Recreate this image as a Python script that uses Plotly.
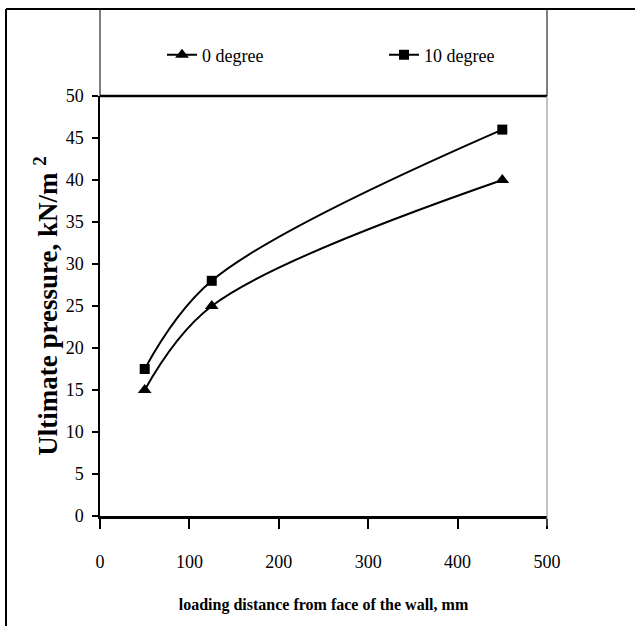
import plotly.graph_objects as go

# Ultimate pressure vs. loading distance for two inclination angles
distance_mm = [50, 125, 450]
pressure_0deg = [15, 25, 40]
pressure_10deg = [17.5, 28, 46]
series_names = ["0 degree", "10 degree"]
x_ticks = [0, 100, 200, 300, 400, 500]
y_ticks = [0, 5, 10, 15, 20, 25, 30, 35, 40, 45, 50]

W, H = 635, 626
L, R, T, B = 100, 547, 96, 516  # plot-area edges in pixels

FONT = "Liberation Serif"


def fx(xp):
    """pixel column -> paper x"""
    return (xp - L) / (R - L)


def fy(yp):
    """pixel row -> paper y"""
    return (B - yp) / (B - T)


fig = go.Figure()
fig.add_trace(go.Scatter(
    x=distance_mm, y=pressure_0deg, name=series_names[0],
    mode="lines+markers",
    line=dict(color="black", width=2, shape="spline", smoothing=1),
    marker=dict(symbol="triangle-up", size=12, color="black"),
    legend="legend",
))
fig.add_trace(go.Scatter(
    x=distance_mm, y=pressure_10deg, name=series_names[1],
    mode="lines+markers",
    line=dict(color="black", width=2, shape="spline", smoothing=1),
    marker=dict(symbol="square", size=10, color="black"),
    legend="legend2",
))

legend_style = dict(
    xanchor="left", yanchor="middle",
    font=dict(family=FONT, size=18, color="black"),
    bgcolor="rgba(0,0,0,0)", borderwidth=0,
)

fig.update_layout(
    width=W, height=H,
    margin=dict(l=L, r=W - R, t=T, b=H - B, autoexpand=False),
    paper_bgcolor="white", plot_bgcolor="white",
    showlegend=True,
    legend=dict(x=fx(162), y=fy(55), **legend_style),
    legend2=dict(x=fx(384), y=fy(55), **legend_style),
    font=dict(family=FONT, color="black"),
)

fig.update_xaxes(
    range=[0, 500], tickvals=x_ticks, ticktext=[str(v) for v in x_ticks],
    showgrid=False, zeroline=False,
    showline=True, linecolor="black", linewidth=2.5,
    ticks="outside", ticklen=10, tickwidth=1.5, tickcolor="black",
    ticklabelstandoff=18,
    tickfont=dict(family=FONT, size=18, color="black"),
    title=dict(text="<b>loading distance from face of the wall, mm</b>",
               font=dict(family=FONT, size=16, color="black"), standoff=28),
    automargin=False,
)
fig.update_yaxes(
    range=[0, 50], tickvals=y_ticks, ticktext=[str(v) for v in y_ticks],
    showgrid=False, zeroline=False,
    showline=True, linecolor="black", linewidth=1.5,
    ticks="outside", ticklen=6, tickwidth=1.5, tickcolor="black",
    ticklabelstandoff=5,
    tickfont=dict(family=FONT, size=18, color="black"),
    title=dict(text="<b>Ultimate pressure, kN/m <sup>2</sup></b>",
               font=dict(family=FONT, size=27, color="black"), standoff=0),
    automargin=False,
)

# Frame lines: outer border, legend box and plot-area border
frame = [
    dict(x0=fx(6), x1=fx(6), y0=fy(9), y1=fy(H), color="black", width=2),
    dict(x0=fx(6), x1=fx(W), y0=fy(9), y1=fy(9), color="black", width=2),
    dict(x0=0, x1=0, y0=fy(9), y1=1, color="black", width=1),
    dict(x0=1, x1=1, y0=fy(9), y1=1, color="black", width=1),
    dict(x0=0, x1=1, y0=1, y1=1, color="black", width=2.5),
    dict(x0=1, x1=1, y0=fy(526), y1=1, color="#8a8a8a", width=1),
]
for f in frame:
    fig.add_shape(type="line", xref="paper", yref="paper",
                  x0=f["x0"], x1=f["x1"], y0=f["y0"], y1=f["y1"],
                  line=dict(color=f["color"], width=f["width"]), layer="above")

fig.write_html("out.html")
